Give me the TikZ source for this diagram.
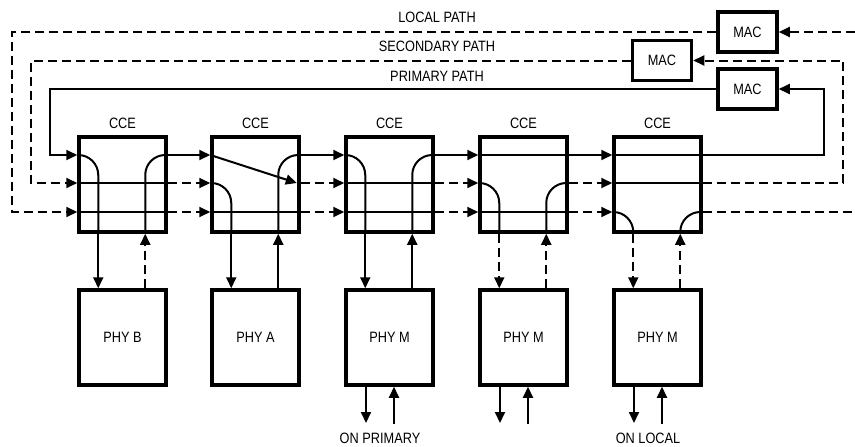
\documentclass[tikz,border=0pt]{standalone}
\usepackage{fontspec}
\setmainfont{Liberation Sans}[FakeStretch=0.85]
\usetikzlibrary{arrows.meta, positioning, calc}

\begin{document}
\begin{tikzpicture}[x=1pt, y=-1pt,
    every node/.style={font=\fontsize{15}{18}\selectfont},
    box/.style={draw, line width=3.5pt, minimum width=87pt, minimum height=95pt, inner sep=0pt},
    mac/.style={draw, line width=3.5pt, minimum width=59pt, minimum height=40pt, inner sep=0pt},
    wire/.style={line width=2pt},
    dwire/.style={line width=2pt, dash pattern=on 9pt off 5pt},
    tip/.style={-{Triangle[length=11pt,width=10pt]}},
    rnd/.style={rounded corners=20pt}]
    \useasboundingbox (0,0) rectangle (855,447);

    % row levels and loop corners
    \coordinate (rowp) at (0,155);
    \coordinate (rows) at (0,183);
    \coordinate (rowl) at (0,212);
    \coordinate (pleft) at (50,0);
    \coordinate (pright) at (824,0);
    \coordinate (sleft) at (31,0);
    \coordinate (sright) at (843,0);
    \coordinate (lleft) at (12,0);
    \coordinate (lout) at (855,212);
    \coordinate (lin) at (855,32);

    % CCE boxes
    \node[box] (cce1) at (122.5,184.5) {};
    \node[box] (cce2) at (255.5,184.5) {};
    \node[box] (cce3) at (389.5,184.5) {};
    \node[box] (cce4) at (523.5,184.5) {};
    \node[box] (cce5) at (657.5,184.5) {};
    \node (lbl1) at (122.5,123) {CCE};
    \node (lbl2) at (255.5,123) {CCE};
    \node (lbl3) at (389.5,123) {CCE};
    \node (lbl4) at (523.5,123) {CCE};
    \node (lbl5) at (657.5,123) {CCE};

    % PHY boxes
    \node[box] (phy1) at (122.5,337.5) {PHY B};
    \node[box] (phy2) at (255.5,337.5) {PHY A};
    \node[box] (phy3) at (389.5,337.5) {PHY M};
    \node[box] (phy4) at (523.5,337.5) {PHY M};
    \node[box] (phy5) at (657.5,337.5) {PHY M};

    % MAC boxes
    \node[mac] (macl) at (747.5,32) {MAC};
    \node[mac] (macs) at (662,60.5) {MAC};
    \node[mac] (macp) at (747.5,89) {MAC};
    \node (lblloc) at (437,17) {LOCAL PATH};
    \node (lblsec) at (437,46) {SECONDARY PATH};
    \node (lblpri) at (437,76) {PRIMARY PATH};

    % inside CCE 1
    \draw[wire,rnd] (cce1.west |- rowp) -| ([xshift=21pt]cce1.south west);
    \draw[wire,rnd] ([xshift=68pt]cce1.south west) |- (cce1.east |- rowp);
    \draw[wire] (cce1.west |- rows) -- (cce1.east |- rows);
    \draw[wire] (cce1.west |- rowl) -- (cce1.east |- rowl);
    % inside CCE 2
    \draw[wire,tip] (cce2.west |- rowp) -- ($(cce2.east |- rows)+(-4,0)$);
    \draw[wire,rnd] (cce2.west |- rows) -| ([xshift=21pt]cce2.south west);
    \draw[wire,rnd] ([xshift=68pt]cce2.south west) |- (cce2.east |- rowp);
    \draw[wire] (cce2.west |- rowl) -- (cce2.east |- rowl);
    % inside CCE 3
    \draw[wire,rnd] (cce3.west |- rowp) -| ([xshift=21pt]cce3.south west);
    \draw[wire,rnd] ([xshift=68pt]cce3.south west) |- (cce3.east |- rowp);
    \draw[wire] (cce3.west |- rows) -- (cce3.east |- rows);
    \draw[wire] (cce3.west |- rowl) -- (cce3.east |- rowl);
    % inside CCE 4
    \draw[wire] (cce4.west |- rowp) -- (cce4.east |- rowp);
    \draw[wire,rnd] (cce4.west |- rows) -| ([xshift=21pt]cce4.south west);
    \draw[wire,rnd] ([xshift=68pt]cce4.south west) |- (cce4.east |- rows);
    \draw[wire] (cce4.west |- rowl) -- (cce4.east |- rowl);
    % inside CCE 5
    \draw[wire] (cce5.west |- rowp) -- (cce5.east |- rowp);
    \draw[wire] (cce5.west |- rows) -- (cce5.east |- rows);
    \draw[wire,rnd] (cce5.west |- rowl) -| ([xshift=21pt]cce5.south west);
    \draw[wire,rnd] ([xshift=68pt]cce5.south west) |- (cce5.east |- rowl);

    % between the CCEs
    \foreach \a/\b in {cce1/cce2, cce2/cce3, cce3/cce4, cce4/cce5} {
        \draw[wire,tip] (\a.east |- rowp) -- (\b.west |- rowp);
        \draw[dwire,tip] (\a.east |- rows) -- (\b.west |- rows);
        \draw[dwire,tip] (\a.east |- rowl) -- (\b.west |- rowl);
    }

    % CCE to PHY
    \draw[wire,tip] ([xshift=21pt]cce1.south west) -- ([xshift=21pt]phy1.north west);
    \draw[dwire,tip] ([xshift=68pt]phy1.north west) -- ([xshift=68pt]cce1.south west);
    \draw[wire,tip] ([xshift=21pt]cce2.south west) -- ([xshift=21pt]phy2.north west);
    \draw[wire,tip] ([xshift=68pt]phy2.north west) -- ([xshift=68pt]cce2.south west);
    \draw[wire,tip] ([xshift=21pt]cce3.south west) -- ([xshift=21pt]phy3.north west);
    \draw[wire,tip] ([xshift=68pt]phy3.north west) -- ([xshift=68pt]cce3.south west);
    \draw[dwire,tip] ([xshift=21pt]cce4.south west) -- ([xshift=21pt]phy4.north west);
    \draw[dwire,tip] ([xshift=68pt]phy4.north west) -- ([xshift=68pt]cce4.south west);
    \draw[dwire,tip] ([xshift=21pt]cce5.south west) -- ([xshift=21pt]phy5.north west);
    \draw[dwire,tip] ([xshift=68pt]phy5.north west) -- ([xshift=68pt]cce5.south west);

    % loops through the MACs
    \draw[wire,tip] (cce5.east |- rowp) -| (pright |- macp.east) -- (macp.east);
    \draw[wire,tip] (macp.west) -| (pleft |- rowp) -- (cce1.west |- rowp);
    \draw[dwire,tip] (cce5.east |- rows) -| (sright |- macs.east) -- (macs.east);
    \draw[dwire,tip] (macs.west) -| (sleft |- rows) -- (cce1.west |- rows);
    \draw[dwire] (cce5.east |- rowl) -- (lout);
    \draw[dwire,tip] (lin) -- (macl.east);
    \draw[dwire,tip] (macl.west) -| (lleft |- rowl) -- (cce1.west |- rowl);

    % station ports
    \coordinate (dn3) at (366,423);
    \coordinate (up3) at (394,424);
    \coordinate (dn4) at (500,423);
    \coordinate (up4) at (528,424);
    \coordinate (dn5) at (634,423);
    \coordinate (up5) at (662,424);
    \draw[wire,tip] (phy3.south west -| dn3) -- (dn3);
    \draw[wire,tip] (up3) -- (phy3.south west -| up3);
    \draw[wire,tip] (phy4.south west -| dn4) -- (dn4);
    \draw[wire,tip] (up4) -- (phy4.south west -| up4);
    \draw[wire,tip] (phy5.south west -| dn5) -- (dn5);
    \draw[wire,tip] (up5) -- (phy5.south west -| up5);
    \node (onpri) at (380,438) {ON PRIMARY};
    \node (onloc) at (648,438) {ON LOCAL};
\end{tikzpicture}
\end{document}
